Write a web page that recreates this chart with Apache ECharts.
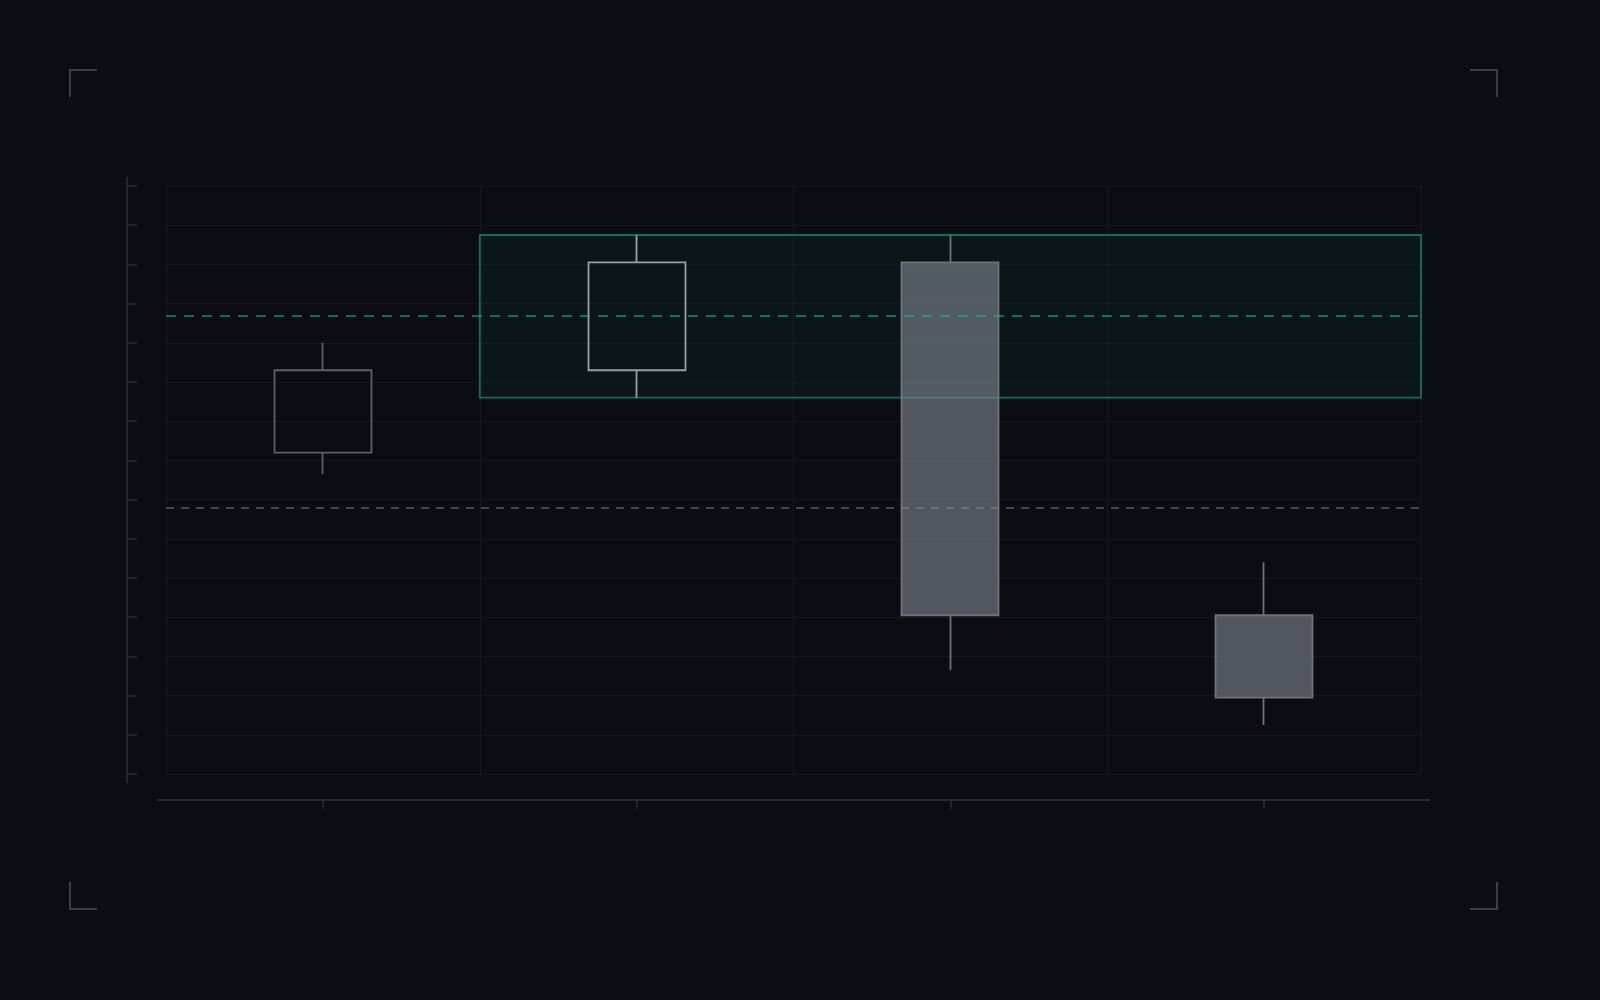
<!DOCTYPE html>
<html>
<head>
<meta charset="utf-8">
<title>Candles</title>
<script src="https://cdn.jsdelivr.net/npm/echarts@6/dist/echarts.min.js"></script>
<style>
    html, body { margin: 0; padding: 0; background: #0b0d12; }
    #chart { width: 1600px; height: 1000px; }
</style>
</head>
<body>
<div id="chart"></div>
<script>
// data
var categories = ['P1', 'P2', 'P3', 'P4'];
var openValues = [82, 103, 130.5, 40.5];
var closeValues = [103, 130.5, 40.5, 19.5];
var lowValues = [76.5, 96, 26.5, 12.5];
var highValues = [110, 137.5, 137.5, 54];

// highlighted range (category 2 .. end) and reference levels
var zoneFrom = 1, zoneTo = 4;
var zoneHigh = 137.5, zoneLow = 96;
var upperLevel = 117;
var lowerLevel = 68;

var yMin = 0, yMax = 150, yStep = 10;

var axisColor = '#272b32';
var gridColor = '#15181e';
var teal = 'rgba(20, 184, 166, 0.55)';

var candleStyles = [
    { color: 'transparent', borderColor: '#5c6067' },
    { color: 'transparent', borderColor: '#9ba0a8' },
    { color: 'rgba(130, 136, 146, 0.6)', color0: 'rgba(130, 136, 146, 0.6)', borderColor0: '#6e737a' },
    { color: 'rgba(130, 136, 146, 0.6)', color0: 'rgba(130, 136, 146, 0.6)', borderColor0: '#6e737a' }
];

var candleData = categories.map(function (c, i) {
    return {
        value: [openValues[i], closeValues[i], lowValues[i], highValues[i]],
        itemStyle: candleStyles[i]
    };
});

function bracket(points) {
    return {
        type: 'polyline',
        shape: { points: points },
        style: { stroke: '#3a3f47', lineWidth: 2, fill: null },
        silent: true
    };
}

var option = {
    backgroundColor: '#0b0d12',
    animation: false,
    grid: { left: 166, right: 179, top: 186, bottom: 226 },
    xAxis: [{
        type: 'category',
        data: categories,
        boundaryGap: true,
        position: 'bottom',
        offset: 26,
        axisLine: { show: false, onZero: false },
        axisTick: { show: true, alignWithLabel: true, length: 9, lineStyle: { color: axisColor, width: 1.6 } },
        axisLabel: { show: false },
        splitLine: { show: true, lineStyle: { color: gridColor, width: 1.2 } }
    }, {
        type: 'value',
        min: 0,
        max: 4,
        show: false,
        axisLine: { onZero: false }
    }],
    yAxis: {
        type: 'value',
        min: yMin,
        max: yMax,
        interval: yStep,
        position: 'left',
        offset: 39,
        axisLine: { show: false, onZero: false },
        axisTick: { show: true, inside: true, length: 10, lineStyle: { color: axisColor, width: 1.6 } },
        axisLabel: { show: false },
        splitLine: { show: true, lineStyle: { color: gridColor, width: 1.2 } }
    },
    series: [{
        type: 'candlestick',
        barWidth: '31%',
        z: 3,
        itemStyle: { borderWidth: 1.8 },
        data: candleData
    }, {
        // carrier for the zone, on the hidden value x axis
        type: 'line',
        xAxisIndex: 1,
        data: [],
        z: 2,
        markArea: {
            silent: true,
            itemStyle: {
                color: 'rgba(20, 170, 150, 0.06)',
                borderColor: teal,
                borderWidth: 1.8
            },
            data: [[
                { xAxis: zoneFrom, yAxis: zoneHigh },
                { xAxis: zoneTo, yAxis: zoneLow }
            ]]
        }
    }, {
        type: 'line',
        xAxisIndex: 1,
        data: [],
        z: 5,
        markLine: {
            silent: true,
            symbol: ['none', 'none'],
            label: { show: false },
            data: [
                { yAxis: upperLevel, lineStyle: { color: teal, type: [10, 8], width: 2 } },
                { yAxis: lowerLevel, lineStyle: { color: 'rgba(140, 145, 155, 0.45)', type: [8, 7], width: 2 } }
            ]
        }
    }],
    graphic: [
        // extended axis lines
        { type: 'line', shape: { x1: 127, y1: 177, x2: 127, y2: 783 }, style: { stroke: axisColor, lineWidth: 1.8 }, silent: true },
        { type: 'line', shape: { x1: 157, y1: 800, x2: 1430, y2: 800 }, style: { stroke: axisColor, lineWidth: 1.8 }, silent: true },
        // frame corners
        bracket([[70, 97], [70, 70], [97, 70]]),
        bracket([[1470, 70], [1497, 70], [1497, 97]]),
        bracket([[70, 882], [70, 909], [97, 909]]),
        bracket([[1470, 909], [1497, 909], [1497, 882]])
    ]
};

var myChart = echarts.init(document.getElementById('chart'));
myChart.setOption(option);
</script>
</body>
</html>
